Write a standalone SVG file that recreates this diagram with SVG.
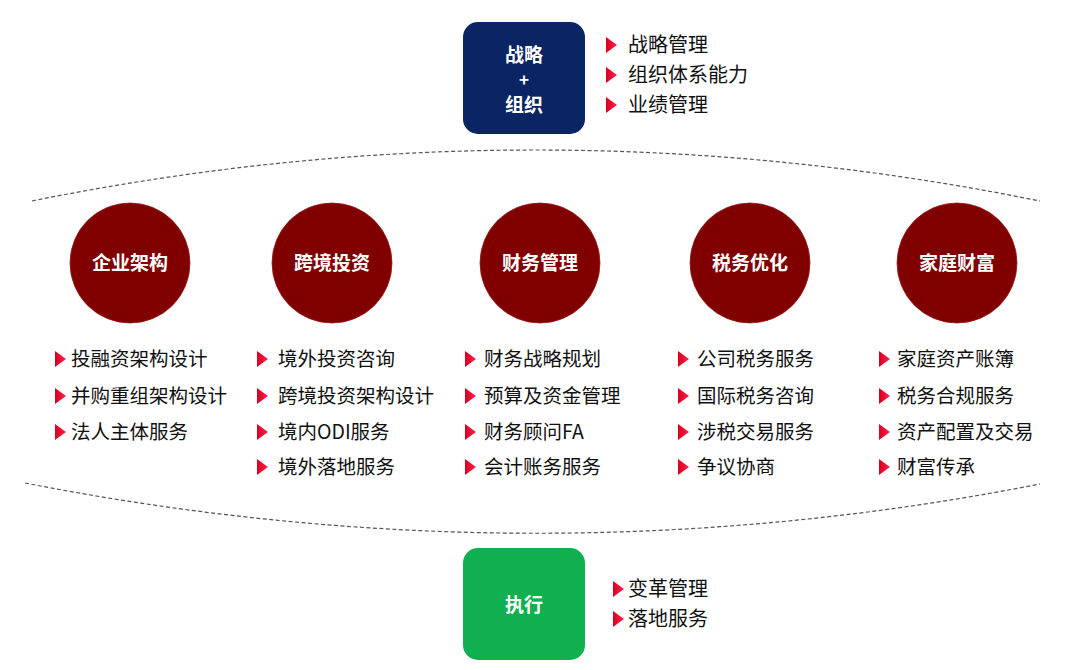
<svg xmlns="http://www.w3.org/2000/svg" width="1080" height="670" viewBox="0 0 1080 670">
  <defs>
    <linearGradient id="tri" x1="0" y1="0" x2="1" y2="0">
      <stop offset="0" stop-color="#d8001c"/>
      <stop offset="1" stop-color="#ff1f55"/>
    </linearGradient>
    <polygon id="bullet" points="0,-8 11,0 0,8" fill="url(#tri)"/>
    <style>
      .lbl{font-family:"Noto Sans CJK SC","Noto Sans",sans-serif;font-size:19.5px;fill:#111111}
      .top{font-size:20px}
      .ctr{font-family:"Noto Sans CJK SC","Noto Sans",sans-serif;font-weight:bold;fill:#ffffff;text-anchor:middle}
      .circ{fill:#800000;stroke:#9a1a1a;stroke-width:0.8}
      .dash{fill:none;stroke:#555;stroke-width:1.2;stroke-dasharray:4 2.5}
    </style>
  </defs>
  <rect width="1080" height="670" fill="#ffffff"/>

  <g id="connectors">
    <path class="dash" d="M32,201 Q536,99 1040,201"/>
    <path class="dash" d="M25,483 Q536,583 1040,484"/>
  </g>

  <g id="strategy">
    <rect x="463" y="22" width="122" height="112" rx="15" fill="#0b2463"/>
    <text class="ctr" x="524" y="62" font-size="19">战略</text>
    <text class="ctr" x="524" y="86" font-size="17">+</text>
    <text class="ctr" x="524" y="112" font-size="19">组织</text>
    <use href="#bullet" x="606" y="45"/>
    <text class="lbl top" x="628" y="52">战略管理</text>
    <use href="#bullet" x="606" y="75"/>
    <text class="lbl top" x="628" y="82">组织体系能力</text>
    <use href="#bullet" x="606" y="105"/>
    <text class="lbl top" x="628" y="112">业绩管理</text>
  </g>

  <g id="n1">
    <circle class="circ" cx="130" cy="263" r="60"/>
    <text class="ctr" x="130" y="270" font-size="19">企业架构</text>
    <use href="#bullet" x="55" y="359"/>
    <text class="lbl" x="71" y="366">投融资架构设计</text>
    <use href="#bullet" x="55" y="396"/>
    <text class="lbl" x="71" y="403">并购重组架构设计</text>
    <use href="#bullet" x="55" y="432"/>
    <text class="lbl" x="71" y="439">法人主体服务</text>
  </g>

  <g id="n2">
    <circle class="circ" cx="332" cy="263" r="60"/>
    <text class="ctr" x="332" y="270" font-size="19">跨境投资</text>
    <use href="#bullet" x="257" y="359"/>
    <text class="lbl" x="278" y="366">境外投资咨询</text>
    <use href="#bullet" x="257" y="396"/>
    <text class="lbl" x="278" y="403">跨境投资架构设计</text>
    <use href="#bullet" x="257" y="432"/>
    <text class="lbl" x="278" y="439">境内ODI服务</text>
    <use href="#bullet" x="257" y="467"/>
    <text class="lbl" x="278" y="474">境外落地服务</text>
  </g>

  <g id="n3">
    <circle class="circ" cx="540" cy="263" r="60"/>
    <text class="ctr" x="540" y="270" font-size="19">财务管理</text>
    <use href="#bullet" x="465" y="359"/>
    <text class="lbl" x="484" y="366">财务战略规划</text>
    <use href="#bullet" x="465" y="396"/>
    <text class="lbl" x="484" y="403">预算及资金管理</text>
    <use href="#bullet" x="465" y="432"/>
    <text class="lbl" x="484" y="439">财务顾问FA</text>
    <use href="#bullet" x="465" y="467"/>
    <text class="lbl" x="484" y="474">会计账务服务</text>
  </g>

  <g id="n4">
    <circle class="circ" cx="750" cy="263" r="60"/>
    <text class="ctr" x="750" y="270" font-size="19">税务优化</text>
    <use href="#bullet" x="678" y="359"/>
    <text class="lbl" x="697" y="366">公司税务服务</text>
    <use href="#bullet" x="678" y="396"/>
    <text class="lbl" x="697" y="403">国际税务咨询</text>
    <use href="#bullet" x="678" y="432"/>
    <text class="lbl" x="697" y="439">涉税交易服务</text>
    <use href="#bullet" x="678" y="467"/>
    <text class="lbl" x="697" y="474">争议协商</text>
  </g>

  <g id="n5">
    <circle class="circ" cx="957" cy="263" r="60"/>
    <text class="ctr" x="957" y="270" font-size="19">家庭财富</text>
    <use href="#bullet" x="879" y="359"/>
    <text class="lbl" x="897" y="366">家庭资产账簿</text>
    <use href="#bullet" x="879" y="396"/>
    <text class="lbl" x="897" y="403">税务合规服务</text>
    <use href="#bullet" x="879" y="432"/>
    <text class="lbl" x="897" y="439">资产配置及交易</text>
    <use href="#bullet" x="879" y="467"/>
    <text class="lbl" x="897" y="474">财富传承</text>
  </g>

  <g id="execution">
    <rect x="463" y="548" width="122" height="112" rx="15" fill="#10b050"/>
    <text class="ctr" x="524" y="612" font-size="19">执行</text>
    <use href="#bullet" x="613" y="589"/>
    <text class="lbl top" x="628" y="596">变革管理</text>
    <use href="#bullet" x="613" y="619"/>
    <text class="lbl top" x="628" y="626">落地服务</text>
  </g>
</svg>
